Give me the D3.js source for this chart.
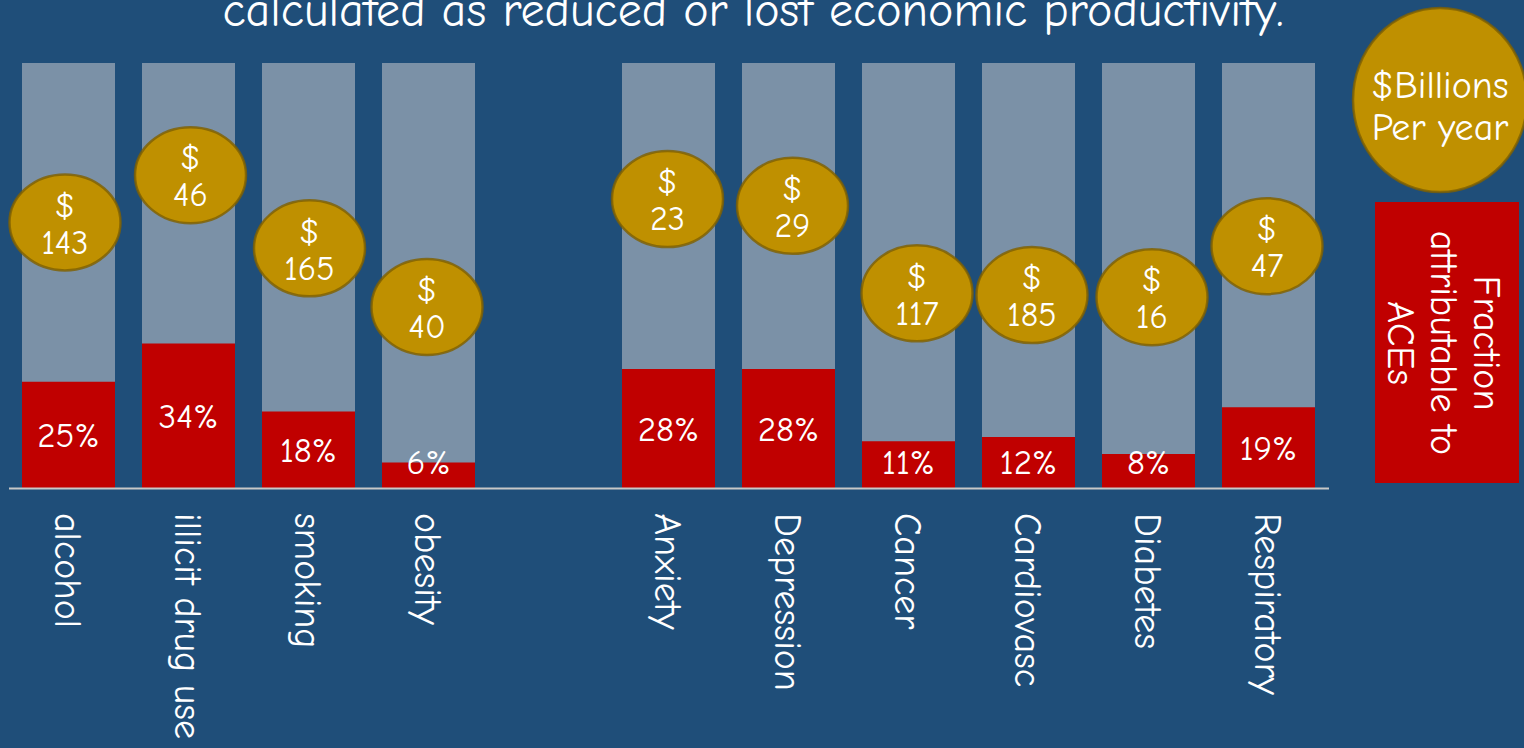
<!DOCTYPE html>
<html>
<head>
<meta charset="utf-8">
<script src="https://cdn.jsdelivr.net/npm/d3@7"></script>
<style>
  html, body { margin: 0; padding: 0; background: #1f4e79; overflow: hidden; }
  svg { display: block; }
  text { font-family: "Comic Sans MS", "Comic Neue", "Open Sans", sans-serif; fill: #ffffff; }
</style>
</head>
<body>
<svg id="chart" width="1524" height="748"></svg>
<script>
// ---- data ----
const titleText = "calculated as reduced or lost economic productivity.";
const categories = ["alcohol", "illicit drug use", "smoking", "obesity",
  "Anxiety", "Depression", "Cancer", "Cardiovasc", "Diabetes", "Respiratory"];
const acePercent = [25, 34, 18, 6, 28, 28, 11, 12, 8, 19];          // fraction attributable to ACEs (%)
const costBillions = [143, 46, 165, 40, 23, 29, 117, 185, 16, 47];  // $ billions per year
const legendCost = ["$Billions", "Per year"];
const legendFraction = ["Fraction", "attributable to", "ACEs"];

// ---- layout (placement of the cost bubbles, in bar-percent units / px shift) ----
const bubbleLevel = [62.5, 73.6, 56.4, 42.6, 68.0, 66.4, 45.8, 45.4, 44.9, 56.9];
const bubbleShift = [-3.5, 2, 1, -1.5, -1, 4, 8.5, 3.5, 3.5, -1.5];
const GAP = "__gap__";
const slots = categories.slice(0, 4).concat([GAP], categories.slice(4));

const svg = d3.select("#chart");
const W = 1524, H = 748;

svg.append("rect").attr("width", W).attr("height", H).attr("fill", "#1f4e79");

const x = d3.scaleBand().domain(slots).range([8.5, 1328.5])
  .paddingInner(0.225).paddingOuter(0.1125);
const y = d3.scaleLinear().domain([0, 100]).range([488, 63]);

const rows = categories.map((c, i) => ({
  cat: c, pct: acePercent[i], cost: costBillions[i],
  level: bubbleLevel[i], shift: bubbleShift[i]
}));

// title (partially cut at top, as in the reference)
svg.append("text")
  .attr("x", 753).attr("y", 26)
  .attr("text-anchor", "middle")
  .attr("font-size", 48)
  .text(titleText);

// full-height background bars
svg.append("g").selectAll("rect").data(rows).join("rect")
  .attr("x", d => x(d.cat)).attr("width", x.bandwidth())
  .attr("y", y(100)).attr("height", y(0) - y(100))
  .attr("fill", "#7b91a7");

// red ACE fraction bars
svg.append("g").selectAll("rect").data(rows).join("rect")
  .attr("x", d => x(d.cat)).attr("width", x.bandwidth())
  .attr("y", d => y(d.pct)).attr("height", d => y(0) - y(d.pct))
  .attr("fill", "#c00000");

// percent labels
svg.append("g").selectAll("text").data(rows).join("text")
  .attr("x", d => x(d.cat) + x.bandwidth() / 2)
  .attr("y", d => Math.min((y(d.pct) + y(0)) / 2, 461))
  .attr("dy", "0.36em")
  .attr("text-anchor", "middle")
  .attr("font-size", 35)
  .text(d => d.pct + "%");

// axis with rotated category labels
const axis = d3.axisBottom(x).tickSize(0).tickFormat(d => d === GAP ? "" : d);
const gAxis = svg.append("g").attr("transform", `translate(0,${y(0)})`).call(axis);
gAxis.select(".domain").attr("stroke", "#c8c8c8").attr("stroke-width", 2);
gAxis.selectAll(".tick text")
  .attr("transform", "rotate(90)")
  .attr("x", 25).attr("y", 0).attr("dy", "0.36em")
  .attr("text-anchor", "start")
  .attr("fill", "#ffffff")
  .attr("font-size", 38)
  .style("font-family", "'Comic Sans MS','Comic Neue','Open Sans',sans-serif");

// cost bubbles
const bub = svg.append("g").selectAll("g").data(rows).join("g")
  .attr("transform", d => `translate(${x(d.cat) + x.bandwidth() / 2 + d.shift},${y(d.level)})`);
bub.append("ellipse")
  .attr("rx", 55.5).attr("ry", 48)
  .attr("fill", "#bf9000")
  .attr("stroke", "#7f6000").attr("stroke-width", 2.5).attr("stroke-opacity", 0.8);
bub.append("text")
  .attr("text-anchor", "middle").attr("y", -18).attr("dy", "0.36em")
  .attr("font-size", 34).text("$");
bub.append("text")
  .attr("text-anchor", "middle").attr("y", 19).attr("dy", "0.36em")
  .attr("font-size", 34).text(d => d.cost);

// legend: cost circle
const lg = svg.append("g");
lg.append("ellipse").attr("cx", 1440).attr("cy", 100).attr("rx", 87).attr("ry", 92)
  .attr("fill", "#bf9000").attr("stroke", "#7f6000").attr("stroke-width", 2.5).attr("stroke-opacity", 0.8);
lg.selectAll("text.cost").data(legendCost).join("text")
  .attr("class", "cost")
  .attr("x", 1440).attr("y", (d, i) => 98 + i * 42)
  .attr("text-anchor", "middle").attr("font-size", 38)
  .text(d => d);

// legend: red fraction box
lg.append("rect").attr("x", 1375).attr("y", 202).attr("width", 144).attr("height", 281)
  .attr("fill", "#c00000");
const ft = lg.append("g").attr("transform", "translate(1488,343) rotate(90)");
ft.selectAll("text").data(legendFraction).join("text")
  .attr("x", 0).attr("y", (d, i) => i * 43).attr("dy", "0.36em")
  .attr("text-anchor", "middle").attr("font-size", 38)
  .text(d => d);
</script>
</body>
</html>
